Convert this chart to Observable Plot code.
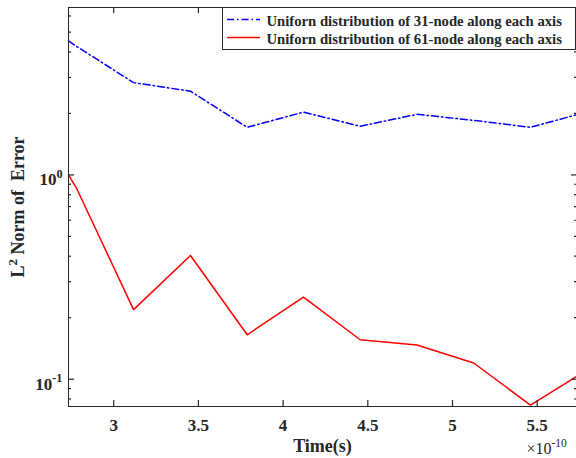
<!DOCTYPE html>
<html><head><meta charset="utf-8">
<script src="https://cdn.jsdelivr.net/npm/d3@7"></script>
<script src="https://cdn.jsdelivr.net/npm/@observablehq/plot@0.6"></script>
<style>html,body{margin:0;padding:0;background:#fff}</style>
</head><body><div id="chart"></div>
<script>
// Time in units of 1e-10 s
const time = [2.733, 2.782, 3.117, 3.453, 3.788, 4.120, 4.455, 4.790, 5.125, 5.460, 5.732];
const error31 = [4.53, 4.25, 2.83, 2.57, 1.71, 2.03, 1.73, 1.98, 1.85, 1.71, 1.97];
const error61 = [1.00, 0.856, 0.219, 0.403, 0.165, 0.252, 0.156, 0.147, 0.120, 0.0747, 0.103];
const seriesNames = ["Uniforn distribution of 31-node along each axis", "Uniforn distribution of 61-node along each axis"];
const seriesColors = ["#0000ff", "#ff0000"];
const xTicks = [3, 3.5, 4, 4.5, 5, 5.5];
const xTickLabels = ["3", "3.5", "4", "4.5", "5", "5.5"];
const yMajorTicks = [0.1, 1];
const yTickLabels = ["10^{-1}", "10^{0}"];
const yMinorTicks = [0.08, 0.09, 0.2, 0.3, 0.4, 0.5, 0.6, 0.7, 0.8, 0.9, 2, 3, 4, 5, 6];
const xDomain = [2.733, 5.732];
const yDomain = [0.0735, 6.6];
const xLabel = "Time(s)";
const yLabel = "L^{2} Norm of  Error";
const xMultiplier = "\u00d710^{-10}";

const rows31 = time.map((t, i) => ({time: t, err: error31[i]}));
const rows61 = time.map((t, i) => ({time: t, err: error61[i]}));
const ink = "#262626";
const blank = () => "";

const plot = Plot.plot({
  width: 576, height: 458,
  marginLeft: 68, marginRight: 0, marginTop: 7, marginBottom: 52,
  style: {fontFamily: "'Liberation Serif', 'Times New Roman', serif", fontWeight: "bold", color: ink, background: "#fff"},
  x: {domain: xDomain, label: null},
  y: {type: "log", domain: yDomain, label: null},
  marks: [
    Plot.line(rows31, {x: "time", y: "err", stroke: seriesColors[0], strokeWidth: 1.5, strokeDasharray: "7,3,1.5,3"}),
    Plot.line(rows61, {x: "time", y: "err", stroke: seriesColors[1], strokeWidth: 1.5}),
    Plot.ruleX([xDomain[0]]),
    Plot.ruleY([yDomain[0]]),
    Plot.ruleY([yDomain[1]]),
    // inward ticks: outward axis ticks shifted into the frame
    Plot.axisX({anchor: "bottom", ticks: xTicks, tickSize: 6, dy: -6, tickFormat: blank, label: null, strokeWidth: 1.2}),
    Plot.axisX({anchor: "top", ticks: xTicks, tickSize: 5, dy: 5, tickFormat: blank, label: null, strokeWidth: 1.2}),
    Plot.axisX({anchor: "bottom", ticks: xTicks, tickSize: 0, tickPadding: 12, label: null, fontSize: 17,
      tickFormat: d => xTickLabels[xTicks.indexOf(d)]}),
    Plot.axisY({anchor: "left", ticks: yMajorTicks, tickSize: 6, dx: 6, tickFormat: blank, label: null, strokeWidth: 1.2}),
    Plot.axisY({anchor: "left", ticks: yMinorTicks, tickSize: 3, dx: 3, tickFormat: blank, label: null, strokeWidth: 1.2}),
    Plot.axisY({anchor: "right", ticks: yMajorTicks, tickSize: 6, dx: -6, tickFormat: blank, label: null, strokeWidth: 1.2}),
    Plot.axisY({anchor: "right", ticks: yMinorTicks, tickSize: 3, dx: -3, tickFormat: blank, label: null, strokeWidth: 1.2}),
    Plot.text(yMajorTicks, {y: d => d, text: (d, i) => yTickLabels[i], frameAnchor: "left", textAnchor: "end", lineAnchor: "middle", dx: -6, dy: 5, fontSize: 17, fontWeight: "bold"}),
    Plot.text([xLabel], {text: d => d, frameAnchor: "bottom", textAnchor: "middle", lineAnchor: "middle", dy: 40, fontSize: 18, fontWeight: "bold"}),
    Plot.text([xMultiplier], {text: d => d, frameAnchor: "bottom-right", textAnchor: "start", lineAnchor: "middle", dx: -50, dy: 42, fontSize: 16, fontWeight: "normal"}),
    Plot.text([yLabel], {text: d => d, frameAnchor: "left", textAnchor: "middle", lineAnchor: "middle", rotate: -90, dx: -50, fontSize: 18, fontWeight: "bold"})
  ]
});
document.getElementById("chart").appendChild(plot);

// superscript handling: "a^{b}" -> tspans
d3.select(plot).selectAll("text").each(function() {
  const s = this.textContent;
  if (!s.includes("^{")) return;
  const fs = parseFloat(getComputedStyle(this).fontSize) || 16;
  const shift = 0.42 * fs;
  const el = d3.select(this);
  el.text(null);
  const re = /\^\{([^}]*)\}/g;
  let last = 0, m, raised = false;
  while ((m = re.exec(s))) {
    if (m.index > last) {
      el.append("tspan").attr("dy", raised ? shift : null).text(s.slice(last, m.index));
      raised = false;
    }
    el.append("tspan").attr("dy", -shift).attr("font-size", 0.72 * fs).text(m[1]);
    raised = true;
    last = re.lastIndex;
  }
  if (last < s.length) el.append("tspan").attr("dy", raised ? shift : null).text(s.slice(last));
});

// legend (MATLAB-style box in the top-right corner)
const svg = d3.select(plot);
const lg = svg.append("g").attr("font-family", "'Liberation Serif', 'Times New Roman', serif")
  .attr("font-weight", "bold").attr("text-anchor", "start");
lg.append("rect").attr("x", 222.5).attr("y", 7.5).attr("width", 353).attr("height", 42)
  .attr("fill", "#fff").attr("stroke", ink).attr("stroke-width", 1);
seriesNames.forEach((name, i) => {
  const cy = 19.5 + i * 18;
  lg.append("line").attr("x1", 227).attr("x2", 260).attr("y1", cy).attr("y2", cy)
    .attr("stroke", seriesColors[i]).attr("stroke-width", 1.5)
    .attr("stroke-dasharray", i === 0 ? "7,3,1.5,3" : null);
  lg.append("text").attr("x", 266.5).attr("y", cy + 6).attr("font-size", 14.7).attr("fill", ink).text(name);
});
</script>
</body></html>
